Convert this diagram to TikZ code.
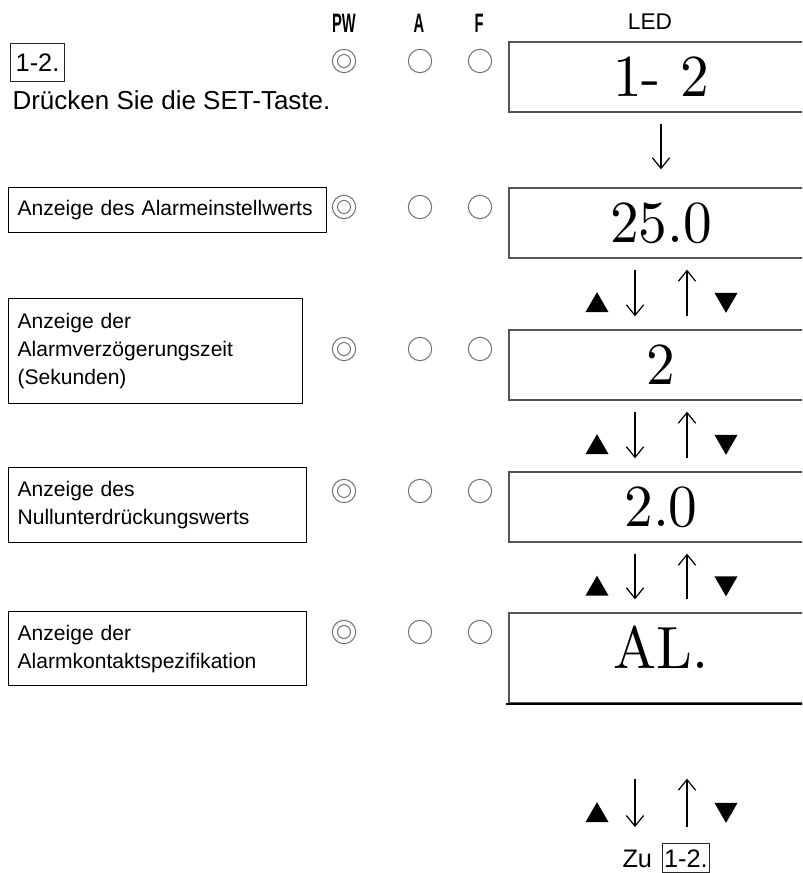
\documentclass[tikz,border=0pt]{standalone}
\usepackage{fontspec}
\usepackage{graphicx}
\usetikzlibrary{arrows.meta,shapes.geometric,positioning}
\newfontfamily\sansfont{Liberation Sans}
\newfontfamily\ledfont{lmroman10-regular}[Extension=.otf]

\definecolor{lampgray}{RGB}{110,110,122}
\definecolor{framegray}{RGB}{85,85,85}

\newcommand{\tall}[1]{\scalebox{1}[1.04]{#1}}
\newcommand{\narrow}[1]{\scalebox{0.55}[1]{#1}}

\tikzset{every picture/.style={line width=0.75pt}}
\tikzset{
  lamp/.style={circle, draw=lampgray, minimum size=17.5pt, inner sep=0pt},
  pwlamp/.style={lamp, path picture={\draw[lampgray] (path picture bounding box.center) circle (4.9pt);}},
  ledbox/.style={draw=framegray, line width=1pt, minimum width=228pt, minimum height=52.5pt, inner sep=0pt, font=\ledfont\fontsize{43}{43}\selectfont},
  infobox/.style={draw, line width=0.9pt, anchor=north west, align=left, inner xsep=6.75pt, inner ysep=0pt, font=\sansfont\fontsize{15.8}{21}\selectfont},
  numbox/.style={draw=black!85, inner sep=0pt, font=\sansfont\fontsize{19}{23}\selectfont},
  headtext/.style={font=\sansfont\bfseries\fontsize{20}{24}\selectfont},
  keyarrow/.style={-{Straight Barb[length=8pt,width=13pt]}, line width=0.9pt, shorten <=8.25pt, shorten >=9.75pt},
  uptri/.style={regular polygon, regular polygon sides=3, fill=black, minimum size=20pt, inner sep=0pt},
  dntri/.style={uptri, shape border rotate=180},
}

\begin{document}
\begin{tikzpicture}[x=0.75pt,y=0.75pt,yscale=-1,xscale=1]
  \useasboundingbox (0,0) rectangle (802,873);
  \clip (0,0) rectangle (802,873);

  % Text Node
  \node[headtext] (pwhead) at (344,23) {\narrow{PW}};
  % Text Node
  \node[headtext] (ahead) at (419,23) {\narrow{A}};
  % Text Node
  \node[headtext] (fhead) at (479,23) {\narrow{F}};
  % Text Node
  \node[font=\sansfont\fontsize{17}{20}\selectfont] (ledhead) at (650,22) {LED};

  % Text Node
  \node[numbox, anchor=north west, minimum width=40.5pt, minimum height=28.5pt] (step12) at (10,43) {1-2.};
  % Text Node
  \node[font=\sansfont\fontsize{19.5}{23}\selectfont, anchor=base west, inner sep=0pt] (hint) at (12,110) {Drücken Sie die SET-Taste.};

  %Shape: Rectangle
  \node[infobox, text width=225pt, minimum height=33.75pt] (info2) at (8,187) {Anzeige des Alarmeinstellwerts};
  %Shape: Rectangle
  \node[infobox, text width=207pt, minimum height=78.75pt] (info3) at (8,298) {Anzeige der\\Alarmverzögerungszeit\\(Sekunden)};
  %Shape: Rectangle
  \node[infobox, text width=210pt, minimum height=56.25pt] (info4) at (8,467) {Anzeige des\\Nullunterdrückungswerts};
  %Shape: Rectangle
  \node[infobox, text width=210pt, minimum height=55.5pt] (info5) at (8,611) {Anzeige der\\Alarmkontaktspezifikation};

  %Shape: Circle
  \node[pwlamp] (pw1) at (344,61) {};
  \node[lamp] (a1) at (420,61) {};
  \node[lamp] (f1) at (480,61) {};
  %Shape: Circle
  \node[pwlamp] (pw2) at (344,207) {};
  \node[lamp] (a2) at (420,207) {};
  \node[lamp] (f2) at (480,207) {};
  %Shape: Circle
  \node[pwlamp] (pw3) at (344,349) {};
  \node[lamp] (a3) at (420,349) {};
  \node[lamp] (f3) at (480,349) {};
  %Shape: Circle
  \node[pwlamp] (pw4) at (344,491) {};
  \node[lamp] (a4) at (420,491) {};
  \node[lamp] (f4) at (480,491) {};
  %Shape: Circle
  \node[pwlamp] (pw5) at (344,632) {};
  \node[lamp] (a5) at (420,632) {};
  \node[lamp] (f5) at (480,632) {};

  %Shape: Rectangle
  \node[ledbox] (led1) at (661,77) {\tall{1- 2}};
  %Shape: Rectangle
  \node[ledbox] (led2) at (661,223) {\tall{25.0}};
  %Shape: Rectangle
  \node[ledbox] (led3) at (661,365) {\tall{2}};
  %Shape: Rectangle
  \node[ledbox] (led4) at (661,507) {\tall{2.0}};
  %Shape: Rectangle
  \node[ledbox, minimum height=67.5pt, text depth=16.5pt] (led5) at (661,658) {\tall{AL.}};
  %Straight Lines
  \draw[line width=1.6pt] ([xshift=-1.5pt]led5.south west) -- (led5.south east);

  % Text Node
  \node[font=\sansfont\fontsize{19}{23}\selectfont, anchor=base west, inner sep=0pt] (zu) at (622,867) {Zu};
  \node[numbox, right=7pt of zu, minimum width=35.25pt, minimum height=21.75pt] (zubox) {1-2.};

  \coordinate (dncol) at (635,0);
  \coordinate (upcol) at (687,0);

  %Straight Lines
  \draw[keyarrow, shorten >=13.5pt] (led1) -- (led2);

  %Straight Lines
  \draw[keyarrow] (led2.south -| dncol) -- (led3.north -| dncol);
  \draw[keyarrow, shorten <=9.75pt, shorten >=8.25pt] (led3.north -| upcol) -- (led2.south -| upcol);
  \node[uptri] (up23) at (597,305.5) {};
  \node[dntri] (dn23) at (726,299.5) {};

  %Straight Lines
  \draw[keyarrow] (led3.south -| dncol) -- (led4.north -| dncol);
  \draw[keyarrow, shorten <=9.75pt, shorten >=8.25pt] (led4.north -| upcol) -- (led3.south -| upcol);
  \node[uptri] (up34) at (597,447.5) {};
  \node[dntri] (dn34) at (726,441.5) {};

  %Straight Lines
  \draw[keyarrow] (led4.south -| dncol) -- (led5.north -| dncol);
  \draw[keyarrow, shorten <=9.75pt, shorten >=8.25pt] (led5.north -| upcol) -- (led4.south -| upcol);
  \node[uptri] (up45) at (597,589) {};
  \node[dntri] (dn45) at (726,583) {};

  %Straight Lines
  \draw[keyarrow, shorten <=56.25pt, shorten >=16.5pt] (led5.south -| dncol) -- (zu.north -| dncol);
  \draw[keyarrow, shorten <=16.5pt, shorten >=56.25pt] (zu.north -| upcol) -- (led5.south -| upcol);
  \node[uptri] (up5z) at (597,815.5) {};
  \node[dntri] (dn5z) at (726,809.5) {};

\end{tikzpicture}
\end{document}
